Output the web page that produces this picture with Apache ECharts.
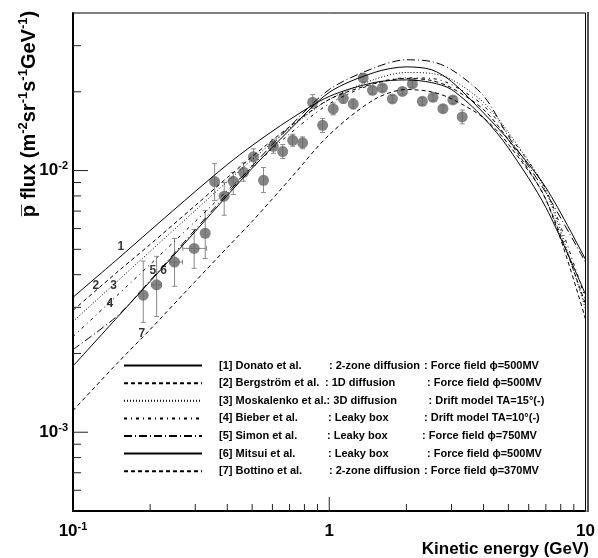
<!DOCTYPE html>
<html>
<head>
<meta charset="utf-8">
<script src="https://cdn.jsdelivr.net/npm/echarts@6/dist/echarts.min.js"></script>
<style>
  html, body { margin: 0; padding: 0; background: #fff; }
  #chartmain { width: 598px; height: 558px; }
</style>
</head>
<body>
<div id="chartmain"></div>
<script>
// energies (GeV) the model curves are read at
var energies = [0.1, 0.15, 0.2, 0.3, 0.4, 0.5, 0.7, 1, 1.5, 2, 2.5, 3, 4, 5, 7, 10];

// model curves, p-bar flux (m^-2 sr^-1 s^-1 GeV^-1)
var donato     = [3.28e-3, 4.61e-3, 5.90e-3, 8.32e-3, 1.054e-2, 1.246e-2, 1.565e-2, 1.92e-2, 2.17e-2, 2.22e-2, 2.17e-2, 2.04e-2, 1.59e-2, 1.22e-2, 7.23e-3, 3.36e-3];
var bergstrom  = [2.92e-3, 4.12e-3, 5.22e-3, 7.35e-3, 9.40e-3, 1.13e-2, 1.47e-2, 1.87e-2, 2.15e-2, 2.25e-2, 2.21e-2, 2.07e-2, 1.71e-2, 1.31e-2, 7.75e-3, 3.08e-3];
var moskalenko = [2.65e-3, 3.80e-3, 4.91e-3, 7.04e-3, 9.08e-3, 1.10e-2, 1.45e-2, 1.87e-2, 2.23e-2, 2.37e-2, 2.35e-2, 2.23e-2, 1.82e-2, 1.40e-2, 8.32e-3, 2.95e-3];
var bieber     = [2.32e-3, 3.36e-3, 4.38e-3, 6.39e-3, 8.39e-3, 1.03e-2, 1.38e-2, 1.80e-2, 2.15e-2, 2.26e-2, 2.25e-2, 2.13e-2, 1.77e-2, 1.37e-2, 8.46e-3, 3.22e-3];
var simon      = [2.07e-3, 2.80e-3, 3.80e-3, 5.95e-3, 8.17e-3, 1.04e-2, 1.47e-2, 2.04e-2, 2.47e-2, 2.65e-2, 2.61e-2, 2.43e-2, 1.93e-2, 1.35e-2, 8.24e-3, 4.46e-3];
var mitsui     = [1.79e-3, 2.77e-3, 3.77e-3, 5.85e-3, 8.03e-3, 1.02e-2, 1.43e-2, 1.99e-2, 2.37e-2, 2.49e-2, 2.43e-2, 2.19e-2, 1.66e-2, 1.31e-2, 8.61e-3, 4.57e-3];
var bottino    = [1.21e-3, 1.85e-3, 2.47e-3, 3.77e-3, 5.08e-3, 6.39e-3, 9.24e-3, 1.37e-2, 1.87e-2, 2.04e-2, 2.00e-2, 1.88e-2, 1.59e-2, 1.26e-2, 7.75e-3, 2.70e-3];

// measured points
var dataE   = [0.188, 0.212, 0.249, 0.297, 0.328, 0.357, 0.389, 0.422, 0.463, 0.506, 0.554, 0.605, 0.658, 0.720, 0.787, 0.861, 0.942, 1.036, 1.134, 1.240, 1.356, 1.474, 1.612, 1.763, 1.929, 2.110, 2.307, 2.540, 2.777, 3.037, 3.302];
var dataF   = [3.34e-3, 3.66e-3, 4.47e-3, 5.04e-3, 5.76e-3, 9.08e-3, 7.98e-3, 9.10e-3, 9.85e-3, 1.128e-2, 9.18e-3, 1.238e-2, 1.182e-2, 1.305e-2, 1.276e-2, 1.823e-2, 1.489e-2, 1.72e-2, 1.888e-2, 1.797e-2, 2.259e-2, 2.025e-2, 2.068e-2, 1.878e-2, 2.007e-2, 2.142e-2, 1.838e-2, 1.905e-2, 1.724e-2, 1.861e-2, 1.603e-2];
var dataFlo = [2.63e-3, 2.77e-3, 3.61e-3, 4.23e-3, 4.61e-3, 7.68e-3, 6.75e-3, 8.10e-3, 9.10e-3, 1.045e-2, 8.24e-3, 1.164e-2, 1.112e-2, 1.238e-2, 1.211e-2, 1.725e-2, 1.397e-2, 1.632e-2, 1.807e-2, 1.720e-2, 2.18e-2, 1.964e-2, 2.006e-2, 1.822e-2, 1.947e-2, 2.078e-2, 1.783e-2, 1.848e-2, 1.672e-2, 1.805e-2, 1.508e-2];
var dataFhi = [4.51e-3, 4.70e-3, 5.50e-3, 5.95e-3, 7.04e-3, 1.063e-2, 9.00e-3, 9.83e-3, 1.07e-2, 1.21e-2, 1.027e-2, 1.317e-2, 1.257e-2, 1.376e-2, 1.345e-2, 1.95e-2, 1.58e-2, 1.813e-2, 1.973e-2, 1.878e-2, 2.34e-2, 2.088e-2, 2.132e-2, 1.936e-2, 2.069e-2, 2.208e-2, 1.895e-2, 1.964e-2, 1.777e-2, 1.919e-2, 1.704e-2];
var dataElo = [0, 0.2023, 0.2384, 0.268, 0, 0, 0, 0, 0, 0, 0, 0, 0, 0, 0, 0, 0, 0, 0, 0, 0, 0, 0, 0, 0, 0, 0, 0, 0, 0, 0];
var dataEhi = [0, 0.2214, 0.2672, 0.3322, 0, 0, 0, 0, 0, 0, 0, 0, 0, 0, 0, 0, 0, 0, 0, 0, 0, 0, 0, 0, 0, 0, 0, 0, 0, 0, 0];

// legend text
var legendNames  = ['[1] Donato et al.', '[2] Bergström et al.', '[3] Moskalenko et al.', '[4] Bieber et al.', '[5] Simon et al.', '[6] Mitsui et al.', '[7] Bottino et al.'];
var legendModels = [': 2-zone diffusion', ': 1D diffusion', ': 3D diffusion', ': Leaky box', ': Leaky box', ': Leaky box', ': 2-zone diffusion'];
var legendSolar  = [': Force field \u03d5=500MV', ': Force field \u03d5=500MV', ': Drift model TA=15\u00b0(-)', ': Drift model TA=10\u00b0(-)', ': Force field \u03d5=750MV', ': Force field \u03d5=500MV', ': Force field \u03d5=370MV'];

// curve number labels
var tagText = ['1', '2', '3', '4', '5', '6', '7'];
var tagE    = [0.1537, 0.1229, 0.1440, 0.1393, 0.2048, 0.2259, 0.1856];
var tagF    = [5.13e-3, 3.64e-3, 3.64e-3, 3.11e-3, 4.15e-3, 4.15e-3, 2.39e-3];

// axis ticks
var xMinorTicks = [0.2, 0.3, 0.4, 0.5, 0.6, 0.7, 0.8, 0.9, 2, 3, 4, 5, 6, 7, 8, 9];
var xMajorTicks = [1];
var yMinorTicks = [6e-4, 7e-4, 8e-4, 9e-4, 2e-3, 3e-3, 4e-3, 5e-3, 6e-3, 7e-3, 8e-3, 9e-3, 2e-2, 3e-2];
var yMajorTicks = [1e-3, 1e-2];

var curves = [donato, bergstrom, moskalenko, bieber, simon, mitsui, bottino];
var dashes = ['solid', [4, 3], [1, 2], [3, 4, 1, 4], [8, 3, 1, 3], 'solid', [4, 3]];

var font = '"Liberation Sans", Arial, Helvetica, sans-serif';

function powLabel(v) {
  var p = Math.log(v) / Math.LN10;
  var r = Math.round(p);
  if (Math.abs(p - r) > 1e-6) return '';
  if (r === 0) return '{b|1}';
  if (r === 1) return '{b|10}';
  return '{b|10}{s|' + r + '}';
}
var labelRich = {
  b: { fontFamily: font, fontWeight: 'bold', fontSize: 17, color: '#000', lineHeight: 20 },
  s: { fontFamily: font, fontWeight: 'bold', fontSize: 11, color: '#000', lineHeight: 11, verticalAlign: 'top' }
};

var series = [];

// error bars
var errData = dataE.map(function (e, i) {
  return [e, dataF[i], dataFlo[i], dataFhi[i], dataElo[i], dataEhi[i]];
});
series.push({
  type: 'custom',
  name: 'errors',
  z: 2,
  silent: true,
  encode: { x: 0, y: 1 },
  data: errData,
  renderItem: function (params, api) {
    var x = api.value(0);
    var lo = api.coord([x, api.value(2)]);
    var hi = api.coord([x, api.value(3)]);
    var st = { stroke: '#8a8a8a', lineWidth: 1 };
    var ch = [
      { type: 'line', shape: { x1: lo[0], y1: lo[1], x2: hi[0], y2: hi[1] }, style: st },
      { type: 'line', shape: { x1: lo[0] - 2.5, y1: lo[1], x2: lo[0] + 2.5, y2: lo[1] }, style: st },
      { type: 'line', shape: { x1: hi[0] - 2.5, y1: hi[1], x2: hi[0] + 2.5, y2: hi[1] }, style: st }
    ];
    if (api.value(4) > 0) {
      var l = api.coord([api.value(4), api.value(1)]);
      var r = api.coord([api.value(5), api.value(1)]);
      ch.push({ type: 'line', shape: { x1: l[0], y1: l[1], x2: r[0], y2: r[1] }, style: st });
      ch.push({ type: 'line', shape: { x1: l[0], y1: l[1] - 2.5, x2: l[0], y2: l[1] + 2.5 }, style: st });
      ch.push({ type: 'line', shape: { x1: r[0], y1: r[1] - 2.5, x2: r[0], y2: r[1] + 2.5 }, style: st });
    }
    return { type: 'group', children: ch };
  }
});

// data points
series.push({
  type: 'scatter',
  name: 'data',
  z: 3,
  symbol: 'circle',
  symbolSize: 11,
  itemStyle: { color: '#666666' },
  data: dataE.map(function (e, i) { return [e, dataF[i]]; })
});

// model curves
curves.forEach(function (c, k) {
  series.push({
    type: 'line',
    name: legendNames[k],
    z: 4,
    symbol: 'none',
    smooth: 0.3,
    itemStyle: { color: '#000' },
    lineStyle: { color: '#000', width: 1, type: dashes[k] },
    data: energies.map(function (e, i) { return [e, c[i]]; })
  });
});

// curve numbers
series.push({
  type: 'scatter',
  name: 'tags',
  z: 5,
  symbolSize: 0,
  silent: true,
  label: {
    show: true,
    position: 'inside',
    formatter: function (p) { return tagText[p.dataIndex]; },
    fontFamily: font, fontWeight: 'bold', fontSize: 12, color: '#000'
  },
  data: tagE.map(function (e, i) { return [e, tagF[i]]; })
});

// ticks drawn inside the frame
function xTickItem(params, api) {
  var p = api.coord([api.value(0), api.value(1)]);
  return { type: 'line', shape: { x1: p[0], y1: p[1], x2: p[0], y2: p[1] - api.value(2) }, style: { stroke: '#222', lineWidth: 1 } };
}
function yTickItem(params, api) {
  var p = api.coord([api.value(0), api.value(1)]);
  return { type: 'line', shape: { x1: p[0], y1: p[1], x2: p[0] + api.value(2), y2: p[1] }, style: { stroke: '#222', lineWidth: 1 } };
}
var xTickData = xMinorTicks.map(function (v) { return [v, 5e-4, 7]; })
  .concat(xMajorTicks.map(function (v) { return [v, 5e-4, 14]; }));
var yTickData = yMinorTicks.map(function (v) { return [0.1, v, 8]; })
  .concat(yMajorTicks.map(function (v) { return [0.1, v, 15]; }));
series.push({ type: 'custom', name: 'xticks', silent: true, z: 6, clip: false, encode: { x: 0, y: 1 }, data: xTickData, renderItem: xTickItem });
series.push({ type: 'custom', name: 'yticks', silent: true, z: 6, clip: false, encode: { x: 0, y: 1 }, data: yTickData, renderItem: yTickItem });

// legend styles, one column width per row (row 3 runs straight into its colon)
var colB = [328, 324, 0, 327, 326, 327, 328];
var colC = [423, 426, 427, 423, 421, 426, 423];
var legendRich = {
  c: { fontFamily: font, fontWeight: 'bold', fontSize: 11, color: '#000', lineHeight: 14 }
};
legendNames.forEach(function (n, i) {
  var a = { fontFamily: font, fontWeight: 'bold', fontSize: 11, color: '#000', lineHeight: 14, padding: [0, 0, 0, 12] };
  if (colB[i]) a.width = colB[i] - 218;
  legendRich['a' + i] = a;
  legendRich['b' + i] = { fontFamily: font, fontWeight: 'bold', fontSize: 11, color: '#000', lineHeight: 14, width: colC[i] - (colB[i] || 325) };
});

var option = {
  backgroundColor: '#fff',
  animation: false,
  grid: { left: 73, right: 11, top: 13, bottom: 47, show: true, borderColor: '#000', borderWidth: 1, backgroundColor: 'transparent' },
  xAxis: {
    type: 'log', logBase: 10, min: 0.1, max: 10,
    axisLine: { show: true, lineStyle: { color: '#000', width: 2 } },
    axisTick: { show: false },
    splitLine: { show: false },
    minorTick: { show: false },
    axisLabel: { margin: 10, formatter: powLabel, rich: labelRich }
  },
  yAxis: {
    type: 'log', logBase: 10, min: 5e-4, max: 4e-2,
    axisLine: { show: true, lineStyle: { color: '#000', width: 2 } },
    axisTick: { show: false },
    splitLine: { show: false },
    minorTick: { show: false },
    axisLabel: { margin: 5, formatter: powLabel, rich: labelRich }
  },
  legend: {
    data: legendNames,
    orient: 'vertical',
    left: 123,
    top: 360,
    padding: 0,
    itemWidth: 78,
    itemHeight: 14,
    itemGap: 6.4,
    selectedMode: false,
    itemStyle: { opacity: 0 },
    formatter: function (name) {
      var i = legendNames.indexOf(name);
      return '{a' + i + '|' + name + '}{b' + i + '|' + legendModels[i] + '}{c|' + legendSolar[i] + '}';
    },
    textStyle: { rich: legendRich }
  },
  graphic: [
    {
      type: 'line', silent: true,
      shape: { x1: 588, y1: 12, x2: 588, y2: 512 },
      style: { stroke: '#555', lineWidth: 2 }
    },
    {
      type: 'text', x: 29, y: 114, rotation: Math.PI / 2,
      style: {
        text: '{b|p\u0305 flux (m}{s|-2}{b|sr}{s|-1}{b|s}{s|-1}{b|GeV}{s|-1}{b|)}',
        align: 'center', verticalAlign: 'middle',
        rich: {
          b: { fontFamily: font, fontWeight: 'bold', fontSize: 20, fill: '#000', lineHeight: 24 },
          s: { fontFamily: font, fontWeight: 'bold', fontSize: 13, fill: '#000', lineHeight: 13, verticalAlign: 'top' }
        }
      }
    },
    {
      type: 'text', x: 589, y: 549,
      style: {
        text: 'Kinetic energy (GeV)',
        align: 'right', verticalAlign: 'middle',
        font: 'bold 17px ' + font, fill: '#000'
      }
    }
  ],
  series: series
};

var myChart = echarts.init(document.getElementById('chartmain'));
myChart.setOption(option);
</script>
</body>
</html>
